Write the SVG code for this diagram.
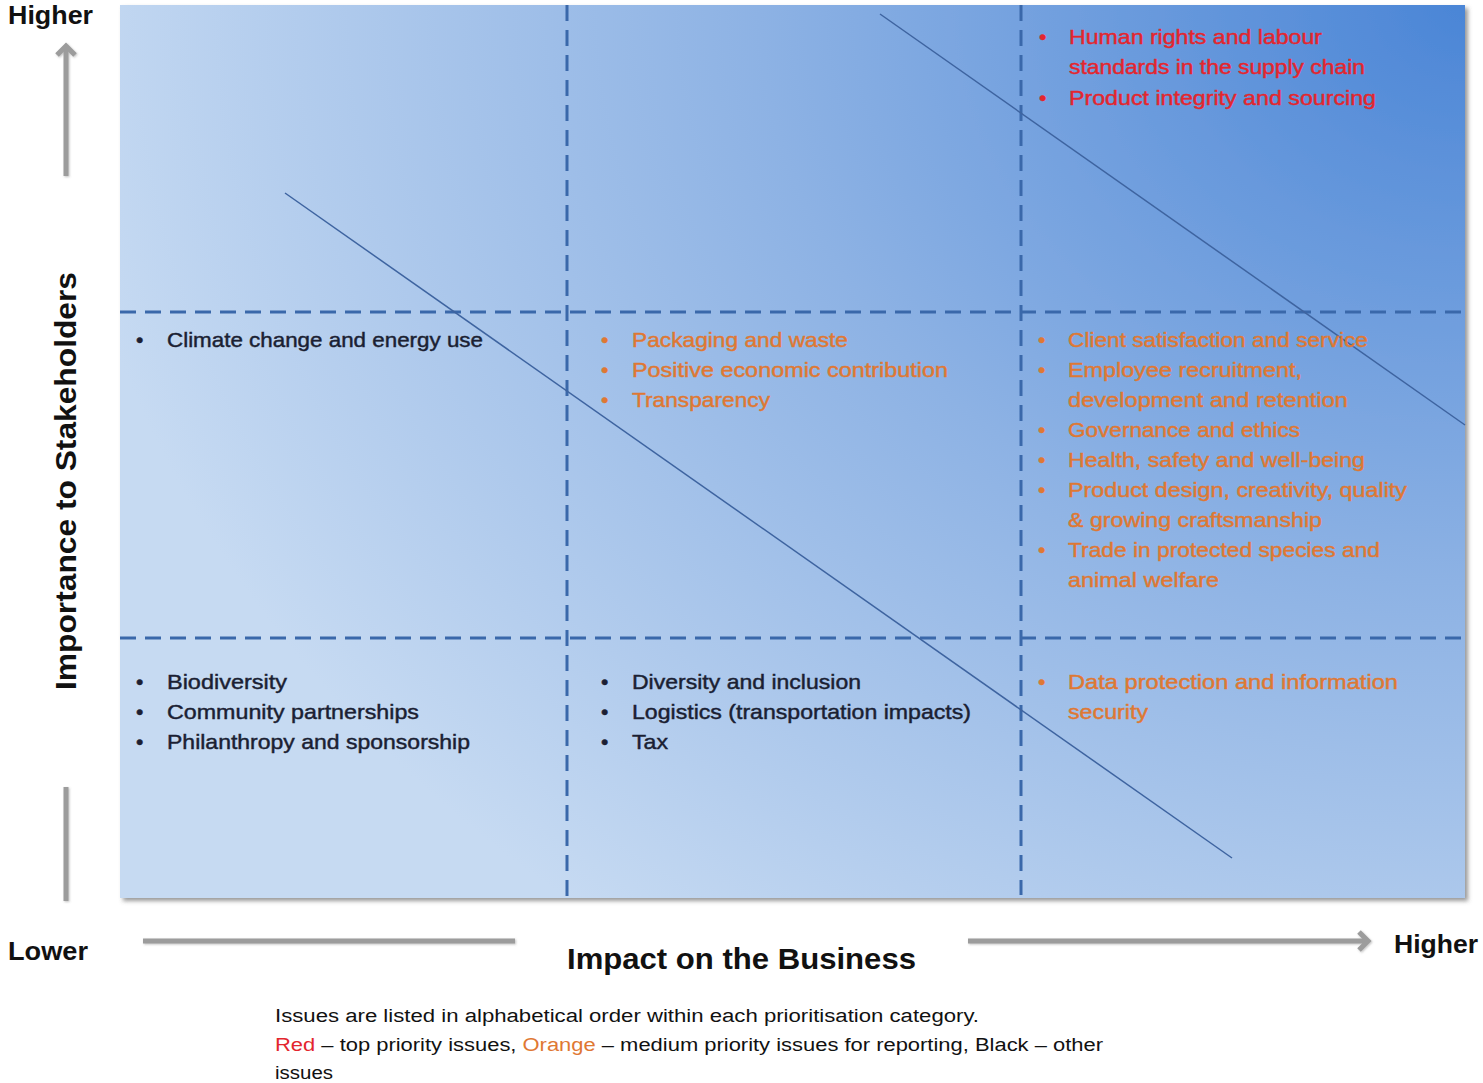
<svg xmlns="http://www.w3.org/2000/svg" width="1483" height="1083" viewBox="0 0 1483 1083">
<defs>
<radialGradient id="bg" gradientUnits="userSpaceOnUse" cx="1470" cy="0" r="1420" gradientTransform="translate(1470 0) scale(1 0.82) translate(-1470 0)">
<stop offset="0" stop-color="#4a85d6"/>
<stop offset="0.5" stop-color="#8db2e4"/>
<stop offset="1" stop-color="#c6daf2"/>
</radialGradient>
<filter id="sh" x="-5%" y="-5%" width="110%" height="110%">
<feDropShadow dx="3" dy="3" stdDeviation="2" flood-color="#555" flood-opacity="0.6"/>
</filter>
<filter id="ash" x="-10%" y="-50%" width="120%" height="200%">
<feDropShadow dx="1" dy="1" stdDeviation="1" flood-color="#666" flood-opacity="0.4"/>
</filter>
</defs>
<style>
text{font-family:"Liberation Sans",Arial,sans-serif}
.it{font-size:21px;stroke-width:0.45}
.blk{fill:#1b1f33;stroke:#1b1f33}
.red{fill:#e3262e;stroke:#e3262e}
.org{fill:#df7833;stroke:#df7833}
.ax{font-size:26px;font-weight:bold;fill:#111}
.ft{font-size:18px;fill:#111}
.dash{stroke:#3a68aa;stroke-width:3;stroke-dasharray:16 9;fill:none}
.diag{stroke:#3e64a0;stroke-width:1.5;fill:none}
.arr{stroke:#9c9c9c;stroke-width:5;fill:none;stroke-linecap:butt}
</style>
<rect id="plot" x="120" y="5" width="1345" height="893" fill="url(#bg)" filter="url(#sh)"/>
<g id="grid">
<line class="dash" x1="567" y1="5" x2="567" y2="900"/>
<line class="dash" x1="1021" y1="5" x2="1021" y2="895"/>
<line class="dash" x1="120" y1="312" x2="1465" y2="312"/>
<line class="dash" x1="120" y1="638" x2="1465" y2="638"/>
</g>
<g id="connectors">
<line class="diag" x1="285" y1="193" x2="1232" y2="858"/>
<line class="diag" x1="880" y1="14" x2="1465" y2="425"/>
</g>
<g id="axes" filter="url(#ash)">
<line class="arr" x1="66" y1="48" x2="66" y2="176"/>
<polyline class="arr" points="57,55 66,46 75,55" stroke-width="4"/>
<line class="arr" x1="66" y1="787" x2="66" y2="901"/>
<line class="arr" x1="143" y1="941" x2="515" y2="941"/>
<line class="arr" x1="968" y1="941" x2="1368" y2="941"/>
<polyline class="arr" points="1359,932 1368,941 1359,950" stroke-width="4"/>
</g>
<g id="labels">
<text class="ax" x="8" y="24" textLength="85" lengthAdjust="spacingAndGlyphs">Higher</text>
<text class="ax" x="8" y="960" textLength="80" lengthAdjust="spacingAndGlyphs">Lower</text>
<text class="ax" x="1394" y="953" textLength="84" lengthAdjust="spacingAndGlyphs">Higher</text>
<text class="ax" x="567" y="969" textLength="349" lengthAdjust="spacingAndGlyphs" style="font-size:30px">Impact on the Business</text>
<text class="ax" transform="translate(76,690) rotate(-90)" x="0" y="0" textLength="418" lengthAdjust="spacingAndGlyphs" style="font-size:30px">Importance to Stakeholders</text>
</g>
<g id="q-top-right" class="it red">
<text x="1039" y="44">•</text><text x="1069" y="44" textLength="253" lengthAdjust="spacingAndGlyphs">Human rights and labour</text>
<text x="1069" y="74" textLength="296" lengthAdjust="spacingAndGlyphs">standards in the supply chain</text>
<text x="1039" y="105">•</text><text x="1069" y="105" textLength="307" lengthAdjust="spacingAndGlyphs">Product integrity and sourcing</text>
</g>
<g id="q-mid-left" class="it blk">
<text x="136" y="347">•</text><text x="167" y="347" textLength="316" lengthAdjust="spacingAndGlyphs">Climate change and energy use</text>
</g>
<g id="q-mid-center" class="it org">
<text x="601" y="347">•</text><text x="632" y="347" textLength="216" lengthAdjust="spacingAndGlyphs">Packaging  and waste</text>
<text x="601" y="377">•</text><text x="632" y="377" textLength="316" lengthAdjust="spacingAndGlyphs">Positive economic contribution</text>
<text x="601" y="407">•</text><text x="632" y="407" textLength="138" lengthAdjust="spacingAndGlyphs">Transparency</text>
</g>
<g id="q-mid-right" class="it org">
<text x="1038" y="347">•</text><text x="1068" y="347" textLength="300" lengthAdjust="spacingAndGlyphs">Client satisfaction and service</text>
<text x="1038" y="377">•</text><text x="1068" y="377" textLength="234" lengthAdjust="spacingAndGlyphs">Employee recruitment,</text>
<text x="1068" y="407" textLength="280" lengthAdjust="spacingAndGlyphs">development and retention</text>
<text x="1038" y="437">•</text><text x="1068" y="437" textLength="232" lengthAdjust="spacingAndGlyphs">Governance and ethics</text>
<text x="1038" y="467">•</text><text x="1068" y="467" textLength="297" lengthAdjust="spacingAndGlyphs">Health, safety and well-being</text>
<text x="1038" y="497">•</text><text x="1068" y="497" textLength="339" lengthAdjust="spacingAndGlyphs">Product design, creativity, quality</text>
<text x="1068" y="527" textLength="254" lengthAdjust="spacingAndGlyphs">&amp; growing craftsmanship</text>
<text x="1038" y="557">•</text><text x="1068" y="557" textLength="312" lengthAdjust="spacingAndGlyphs">Trade in protected species and</text>
<text x="1068" y="587" textLength="151" lengthAdjust="spacingAndGlyphs">animal welfare</text>
</g>
<g id="q-low-left" class="it blk">
<text x="136" y="689">•</text><text x="167" y="689" textLength="120" lengthAdjust="spacingAndGlyphs">Biodiversity</text>
<text x="136" y="719">•</text><text x="167" y="719" textLength="252" lengthAdjust="spacingAndGlyphs">Community partnerships</text>
<text x="136" y="749">•</text><text x="167" y="749" textLength="303" lengthAdjust="spacingAndGlyphs">Philanthropy and sponsorship</text>
</g>
<g id="q-low-center" class="it blk">
<text x="601" y="689">•</text><text x="632" y="689" textLength="229" lengthAdjust="spacingAndGlyphs">Diversity and inclusion</text>
<text x="601" y="719">•</text><text x="632" y="719" textLength="339" lengthAdjust="spacingAndGlyphs">Logistics (transportation impacts)</text>
<text x="601" y="749">•</text><text x="632" y="749" textLength="36" lengthAdjust="spacingAndGlyphs">Tax</text>
</g>
<g id="q-low-right" class="it org">
<text x="1038" y="689">•</text><text x="1068" y="689" textLength="330" lengthAdjust="spacingAndGlyphs">Data protection and information</text>
<text x="1068" y="719" textLength="80" lengthAdjust="spacingAndGlyphs">security</text>
</g>
<g id="footer" class="ft">
<text x="275" y="1022" textLength="704" lengthAdjust="spacingAndGlyphs">Issues are listed in alphabetical order within each prioritisation category.</text>
<text x="275" y="1051" textLength="828" lengthAdjust="spacingAndGlyphs"><tspan fill="#e3262e">Red</tspan> – top priority issues, <tspan fill="#df7833">Orange</tspan> – medium priority issues for reporting, Black – other</text>
<text x="275" y="1079" textLength="58" lengthAdjust="spacingAndGlyphs">issues</text>
</g>
</svg>
